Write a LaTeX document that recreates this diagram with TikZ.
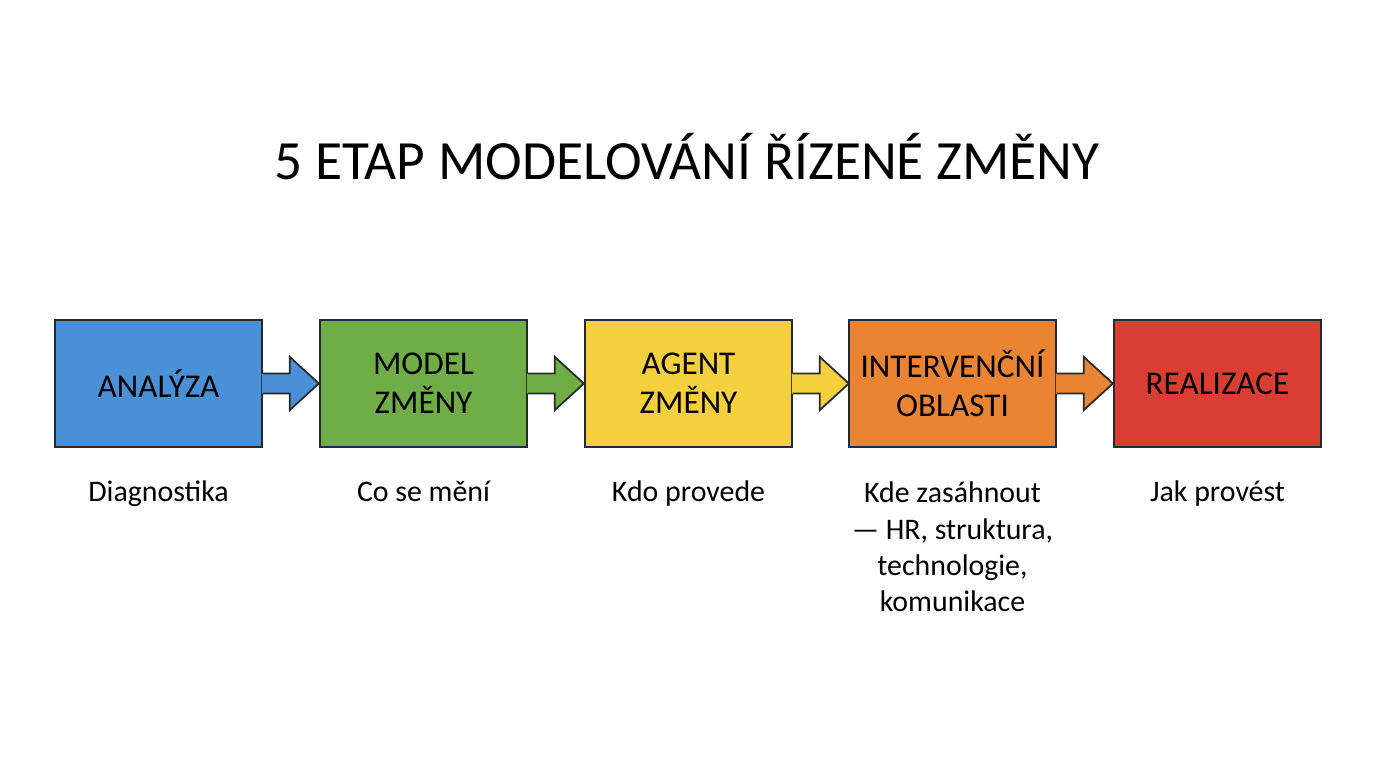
\documentclass[tikz,border=0pt]{standalone}
\usepackage{fontspec}
\setmainfont{Carlito}
\usepackage{tikz}
\usetikzlibrary{positioning}

\definecolor{stageblue}{RGB}{74,144,214}
\definecolor{stagegreen}{RGB}{112,173,71}
\definecolor{stageyellow}{RGB}{244,208,63}
\definecolor{stageorange}{RGB}{234,132,50}
\definecolor{stagered}{RGB}{218,62,50}
\definecolor{edgeline}{RGB}{38,42,48}

\tikzset{
  stagebox/.style={draw=edgeline, line width=1pt, minimum width=4.14cm, minimum height=2.54cm,
    align=center, inner sep=0pt, font=\fontsize{18.9}{22.2}\selectfont},
  caption/.style={anchor=north, align=center, inner sep=0pt, font=\fontsize{17}{20.6}\selectfont,
    execute at begin node=\strut}
}

% block arrow leaving the right side of a stage box
\newcommand{\stagearrow}[2]{%
  \fill[#2] (#1.east) ++(-1,-10) -- ++(28,0) -- ++(0,-16.5) -- ++(29,26.5) -- ++(-29,26.5)
     -- ++(0,-16.5) -- ++(-28,0) -- cycle;
  \draw[edgeline, line width=1pt, line join=miter] (#1.east) ++(0,-10) -- ++(27,0) -- ++(0,-16.5)
     -- ++(29,26.5) -- ++(-29,26.5) -- ++(0,-16.5) -- ++(-27,0);
}

\begin{document}
\begin{tikzpicture}[x=0.02cm, y=-0.02cm]
  \useasboundingbox (0,0) rectangle (1376,768);
      \draw (687,157) node (title) {\fontsize{31.5}{38}\selectfont 5 ETAP MODELOVÁNÍ ŘÍZENÉ ZMĚNY};
  \draw (158.5,383.5) node[stagebox, fill=stageblue] (analyza) {ANALÝZA};
  \draw (423.5,383.5) node[stagebox, fill=stagegreen] (model) {MODEL\\ZMĚNY};
  \draw (688.5,383.5) node[stagebox, fill=stageyellow] (agent) {AGENT\\ZMĚNY};
  \draw (952.5,383.5) node[stagebox, fill=stageorange] (oblasti) {INTERVENČNÍ\\OBLASTI};
  \draw (1217.5,383.5) node[stagebox, fill=stagered] (realizace) {REALIZACE};
     \stagearrow{analyza}{stageblue}
     \stagearrow{model}{stagegreen}
     \stagearrow{agent}{stageyellow}
     \stagearrow{oblasti}{stageorange}
      \node[caption, below=0.56cm of analyza] (diag) {Diagnostika};
      \node[caption, below=0.56cm of model] (co) {Co se mění};
      \node[caption, below=0.56cm of agent] (kdo) {Kdo provede};
      \node[caption, below=0.68cm of oblasti] (kde) {Kde zasáhnout\\— HR, struktura,\\technologie,\\komunikace};
      \node[caption, below=0.56cm of realizace] (jak) {Jak provést};
\end{tikzpicture}
\end{document}
